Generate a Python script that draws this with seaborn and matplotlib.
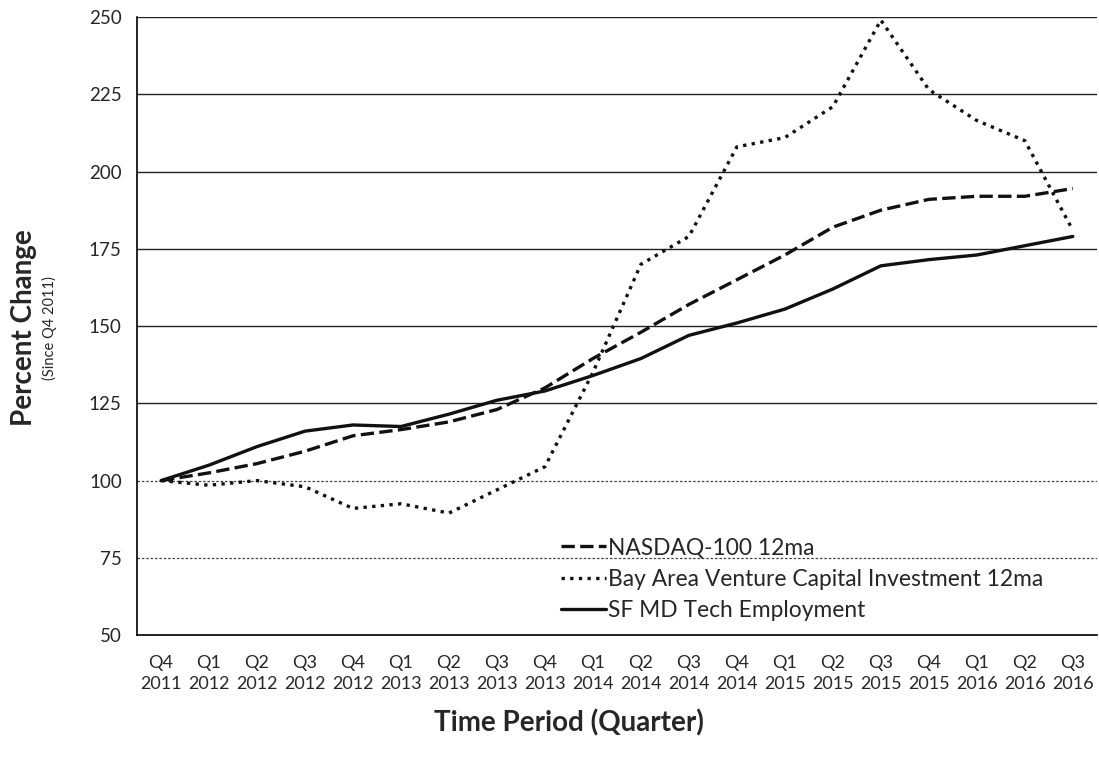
import numpy as np
import pandas as pd
import matplotlib
matplotlib.use('Agg')
import matplotlib.pyplot as plt
import seaborn as sns

QUARTERS = ['Q4\n2011', 'Q1\n2012', 'Q2\n2012', 'Q3\n2012', 'Q4\n2012',
            'Q1\n2013', 'Q2\n2013', 'Q3\n2013', 'Q4\n2013', 'Q1\n2014',
            'Q2\n2014', 'Q3\n2014', 'Q4\n2014', 'Q1\n2015', 'Q2\n2015',
            'Q3\n2015', 'Q4\n2015', 'Q1\n2016', 'Q2\n2016', 'Q3\n2016']

NASDAQ = [100, 102.5, 105.5, 109.5, 114.5, 116.5, 119, 123, 130, 139.5,
          148, 157, 165, 173, 182, 187.5, 191, 192, 192, 194.5]
VENTURE = [100, 98.5, 100, 98, 91, 92.5, 89.5, 97, 104.5, 135,
           170, 179, 208, 211, 221, 249, 226.5, 216.5, 210, 181]
TECH_EMP = [100, 105, 111, 116, 118, 117.5, 121.5, 126, 129, 134,
            139.5, 147, 151, 155.5, 162, 169.5, 171.5, 173, 176, 179]

SERIES = ['NASDAQ-100 12ma', 'Bay Area Venture Capital Investment 12ma',
          'SF MD Tech Employment']
Y_TICKS = [50, 75, 100, 125, 150, 175, 200, 225, 250]


def build_frame():
    rows = []
    for name, vals in zip(SERIES, [NASDAQ, VENTURE, TECH_EMP]):
        for i, v in enumerate(vals):
            rows.append({'pos': i, 'value': v, 'series': name})
    return pd.DataFrame(rows)


def main():
    sns.set_style('white')
    plt.rcParams['font.family'] = ['Lato', 'DejaVu Sans']

    df = build_frame()
    fig = plt.figure(figsize=(10.99, 7.57), dpi=100)
    ax = fig.add_axes([0.1247, 0.161, 0.8733, 0.8165])

    # grid first so lines sit on top
    for y in Y_TICKS[1:]:
        if y in (75, 100):
            ax.axhline(y, color='#444444', lw=0.9, ls=(0, (2, 1.5)), zorder=0)
        else:
            ax.axhline(y, color='#222222', lw=1.0, zorder=0)

    sns.lineplot(data=df, x='pos', y='value', style='series', hue='series',
                 palette=['#111111'] * 3, style_order=SERIES,
                 dashes={SERIES[0]: (4, 1.6), SERIES[1]: (1, 1.6), SERIES[2]: ''},
                 linewidth=2.4, ax=ax, legend=False)

    ax.set_xlim(-0.5, len(QUARTERS) - 0.5)
    ax.set_ylim(50, 250)
    ax.set_yticks(Y_TICKS)
    ax.set_yticklabels([str(t) for t in Y_TICKS], fontsize=13.5)
    ax.set_xticks(np.arange(len(QUARTERS) + 1) - 0.5)
    ax.set_xticklabels([])
    ax.set_xticks(np.arange(len(QUARTERS)), minor=True)
    ax.set_xticklabels(QUARTERS, minor=True, fontsize=13, linespacing=1.45)
    ax.tick_params(axis='x', which='major', length=8, width=1, color='black', direction='out')
    ax.tick_params(axis='x', which='minor', length=0, pad=14)
    ax.tick_params(axis='y', length=5, width=1, color='black', direction='out', pad=6)

    for side in ['top', 'right']:
        ax.spines[side].set_visible(False)
    for side in ['left', 'bottom']:
        ax.spines[side].set_color('black')
        ax.spines[side].set_linewidth(1.2)

    ax.set_xlabel('')
    ax.set_ylabel('')
    fig.text(0.518, 0.045, 'Time Period (Quarter)', ha='center', va='center',
             fontsize=20, fontweight='bold')
    fig.text(0.022, 0.567, 'Percent Change', ha='center', va='center',
             rotation=90, fontsize=20, fontweight='bold')
    fig.text(0.045, 0.567, '(Since Q4 2011)', ha='center', va='center',
             rotation=90, fontsize=10.5)

    handles = [plt.Line2D([], [], color='#111111', lw=2.4, ls=(0, (4, 1.6))),
               plt.Line2D([], [], color='#111111', lw=2.4, ls=(0, (1, 1.6))),
               plt.Line2D([], [], color='#111111', lw=2.4)]
    ax.legend(handles, SERIES, loc='lower left', bbox_to_anchor=(0.42, -0.01),
              frameon=False, fontsize=16.4, handlelength=2.0, handletextpad=0.1,
              labelspacing=0.45)

    fig.savefig('out.png', dpi=100)


main()
